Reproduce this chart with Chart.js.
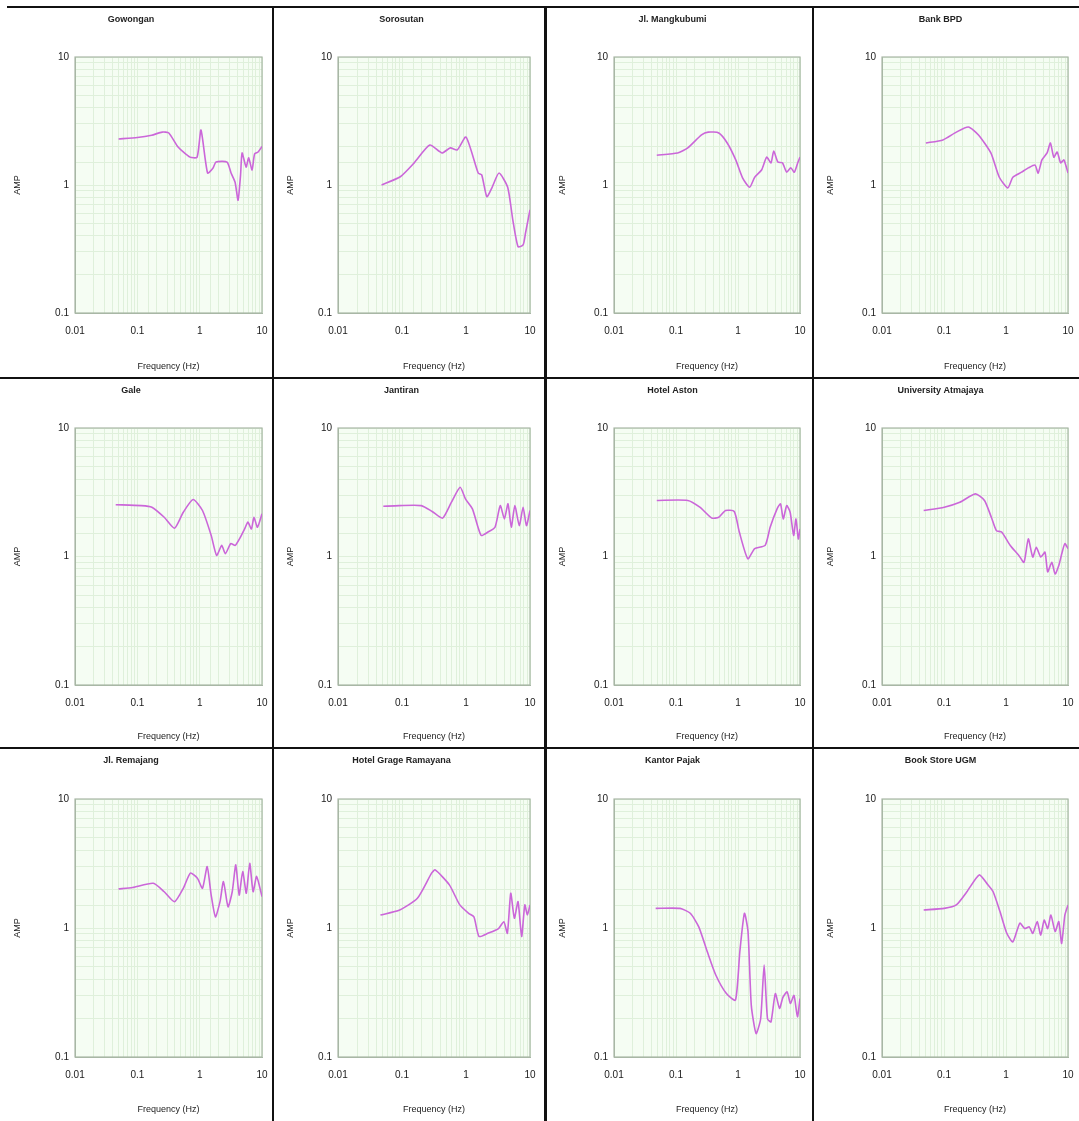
<!DOCTYPE html>
<html>
<head>
<meta charset="utf-8">
<title>HVSR - 12 titik</title>
<script src="https://cdn.jsdelivr.net/npm/chart.js@4.4.1/dist/chart.umd.min.js"></script>
<style>
    html, body { margin: 0; padding: 0; background: #fff; }
    #board { position: relative; width: 1079px; height: 1121px; overflow: hidden; background: #fff; }
    #board canvas { position: absolute; }
    .sep { position: absolute; background: #111; z-index: 5; }
</style>
</head>
<body>
<div id="board"></div>
<script>
(function() {
    'use strict';

    // ---- data ----
    const SITE_NAMES = [
        'Gowongan', 'Sorosutan', 'Jl. Mangkubumi', 'Bank BPD',
        'Gale', 'Jantiran', 'Hotel Aston', 'University Atmajaya',
        'Jl. Remajang', 'Hotel Grage Ramayana', 'Kantor Pajak', 'Book Store UGM',
    ];

    const gowonganFreq = [0.05, 0.1, 0.17, 0.25, 0.32, 0.45, 0.7, 0.91, 1.05, 1.34, 1.64, 1.83, 2.75, 3.19, 3.7, 4.13, 4.53, 4.79, 5.56, 6.11, 6.93, 7.6, 8.65, 10];
    const gowonganAmp  = [2.29, 2.35, 2.45, 2.59, 2.55, 1.98, 1.65, 1.65, 2.69, 1.24, 1.36, 1.51, 1.51, 1.24, 1.05, 0.76, 1.2, 1.78, 1.38, 1.63, 1.31, 1.75, 1.81, 2.0];

    const sorosutanFreq = [0.048, 0.094, 0.155, 0.272, 0.42, 0.57, 0.73, 1.0, 1.55, 1.76, 2.12, 2.56, 3.28, 4.48, 5.4, 6.5, 7.8, 8.5, 10];
    const sorosutanAmp  = [1.0, 1.16, 1.49, 2.05, 1.78, 1.95, 1.88, 2.37, 1.24, 1.2, 0.81, 0.96, 1.24, 0.96, 0.53, 0.33, 0.34, 0.42, 0.64];

    const mangkubumiFreq = [0.049, 0.106, 0.155, 0.258, 0.33, 0.49, 0.67, 0.92, 1.19, 1.54, 1.86, 2.4, 2.9, 3.4, 3.77, 4.4, 5.2, 6.1, 7.1, 8.1, 9.2, 10];
    const mangkubumiAmp  = [1.71, 1.78, 1.95, 2.46, 2.59, 2.55, 2.13, 1.57, 1.13, 0.96, 1.15, 1.31, 1.65, 1.49, 1.84, 1.51, 1.49, 1.26, 1.36, 1.26, 1.49, 1.65];

    const bankBpdFreq = [0.051, 0.096, 0.158, 0.247, 0.36, 0.57, 0.78, 1.07, 1.29, 1.78, 2.3, 2.94, 3.3, 3.8, 4.6, 5.2, 5.9, 6.7, 7.6, 8.6, 10];
    const bankBpdAmp  = [2.13, 2.25, 2.59, 2.84, 2.46, 1.78, 1.15, 0.95, 1.15, 1.26, 1.36, 1.43, 1.24, 1.57, 1.78, 2.13, 1.65, 1.81, 1.49, 1.57, 1.24];

    const galeFreq = [0.045, 0.116, 0.171, 0.27, 0.395, 0.546, 0.785, 1.11, 1.53, 1.87, 2.26, 2.58, 3.15, 3.72, 4.35, 5.27, 5.94, 6.76, 7.43, 8.45, 10];
    const galeAmp  = [2.53, 2.49, 2.42, 2.02, 1.66, 2.21, 2.78, 2.28, 1.46, 1.02, 1.22, 1.05, 1.26, 1.22, 1.37, 1.64, 1.85, 1.64, 2.02, 1.69, 2.15];

    const jantiranFreq = [0.051, 0.09, 0.2, 0.296, 0.43, 0.59, 0.81, 0.98, 1.26, 1.72, 2.21, 2.84, 3.43, 3.98, 4.53, 5.1, 5.8, 6.8, 7.8, 8.8, 10];
    const jantiranAmp  = [2.46, 2.49, 2.49, 2.24, 1.99, 2.64, 3.46, 2.81, 2.35, 1.46, 1.55, 1.69, 2.49, 1.96, 2.57, 1.69, 2.49, 1.74, 2.42, 1.74, 2.28];

    const astonFreq = [0.049, 0.155, 0.242, 0.378, 0.49, 0.63, 0.87, 1.05, 1.44, 1.86, 2.74, 3.3, 4.27, 4.85, 5.37, 6.1, 6.93, 7.9, 8.6, 9.4, 10];
    const astonAmp  = [2.73, 2.73, 2.42, 1.99, 2.02, 2.28, 2.24, 1.55, 0.96, 1.15, 1.22, 1.69, 2.35, 2.57, 1.96, 2.49, 2.21, 1.46, 1.96, 1.37, 1.64];

    const atmajayaFreq = [0.047, 0.101, 0.18, 0.32, 0.45, 0.58, 0.7, 0.85, 1.17, 1.61, 1.95, 2.29, 2.7, 3.08, 3.63, 4.25, 4.7, 5.48, 6.2, 7.1, 8.05, 8.9, 10];
    const atmajayaAmp  = [2.28, 2.42, 2.64, 3.07, 2.73, 2.02, 1.59, 1.55, 1.22, 1.02, 0.9, 1.37, 0.99, 1.18, 0.99, 1.08, 0.76, 0.9, 0.73, 0.85, 1.08, 1.26, 1.15];

    const remajangFreq = [0.05, 0.084, 0.18, 0.27, 0.395, 0.546, 0.71, 0.92, 1.11, 1.32, 1.53, 1.79, 2.12, 2.41, 2.85, 3.33, 3.8, 4.3, 4.9, 5.6, 6.35, 7.2, 8.2, 10];
    const remajangAmp  = [2.01, 2.06, 2.22, 1.91, 1.6, 2.03, 2.66, 2.43, 2.03, 2.99, 1.8, 1.22, 1.6, 2.29, 1.46, 1.91, 3.09, 1.8, 2.74, 1.86, 3.18, 1.91, 2.51, 1.75];

    const grageFreq = [0.046, 0.092, 0.174, 0.29, 0.33, 0.55, 0.8, 1.1, 1.33, 1.6, 2.2, 3.22, 3.9, 4.43, 5.0, 5.7, 6.5, 7.4, 8.3, 9.1, 10];
    const grageAmp  = [1.26, 1.38, 1.7, 2.66, 2.82, 2.16, 1.51, 1.3, 1.22, 0.86, 0.91, 0.99, 1.12, 0.91, 1.86, 1.19, 1.6, 0.86, 1.51, 1.26, 1.51];

    const pajakFreq = [0.047, 0.116, 0.17, 0.233, 0.32, 0.44, 0.65, 0.91, 1.07, 1.27, 1.45, 1.64, 1.96, 2.32, 2.64, 2.99, 3.4, 4.0, 4.68, 5.3, 6.2, 7.0, 8.0, 9.1, 10];
    const pajakAmp  = [1.42, 1.42, 1.3, 1.02, 0.654, 0.43, 0.31, 0.276, 0.654, 1.3, 0.94, 0.25, 0.152, 0.198, 0.516, 0.198, 0.187, 0.31, 0.238, 0.29, 0.32, 0.26, 0.3, 0.205, 0.284];

    const bookStoreFreq = [0.047, 0.101, 0.158, 0.234, 0.37, 0.51, 0.62, 0.8, 1.03, 1.29, 1.67, 2.0, 2.37, 2.7, 3.19, 3.63, 4.13, 4.7, 5.3, 6.2, 7.1, 7.9, 8.9, 10];
    const bookStoreAmp  = [1.38, 1.42, 1.51, 1.91, 2.58, 2.16, 1.91, 1.34, 0.91, 0.78, 1.09, 0.99, 1.02, 0.91, 1.12, 0.88, 1.15, 0.99, 1.26, 0.94, 1.12, 0.76, 1.26, 1.51];

    const X_DECADES = [0.01, 0.1, 1, 10];
    const X_TICK_LABELS = ['0.01', '0.1', '1', '10'];
    const Y_DECADES = [0.1, 1, 10];
    const Y_TICK_LABELS = ['0.1', '1', '10'];

    const SERIES = [
        [gowonganFreq, gowonganAmp], [sorosutanFreq, sorosutanAmp], [mangkubumiFreq, mangkubumiAmp], [bankBpdFreq, bankBpdAmp],
        [galeFreq, galeAmp], [jantiranFreq, jantiranAmp], [astonFreq, astonAmp], [atmajayaFreq, atmajayaAmp],
        [remajangFreq, remajangAmp], [grageFreq, grageAmp], [pajakFreq, pajakAmp], [bookStoreFreq, bookStoreAmp],
    ];

    // ---- layout of the 4x3 sheet ----
    const COL_EDGES = [0, 273, 545, 813, 1079];
    const ROW_EDGES = [7, 378, 748, 1121];
    const PLOT_LEFT = [75, 338, 614, 882];
    const PLOT_RIGHT = [262, 530, 800, 1068];
    const PLOT_TOP = [57, 428, 799];
    const PLOT_BOTTOM = [313, 685, 1057];

    const FONT = "'Liberation Sans', Arial, sans-serif";
    const LINE_COLOR = '#cb66d9';
    const PLOT_BG = '#f5fdf3';
    const GRID_COLOR = '#dff0db';
    const FRAME_COLOR = '#a9b7a6';

    Chart.defaults.font.family = FONT;
    Chart.defaults.color = '#1a1a1a';

    const plotFrame = {
        id: 'plotFrame',
        beforeDraw(chart) {
            const { ctx, chartArea: a } = chart;
            ctx.save();
            ctx.fillStyle = PLOT_BG;
            ctx.fillRect(a.left, a.top, a.width, a.height);
            ctx.restore();
        },
        beforeDatasetsDraw(chart) {
            const { ctx, chartArea: a } = chart;
            ctx.save();
            ctx.strokeStyle = FRAME_COLOR;
            ctx.lineWidth = 1.2;
            ctx.strokeRect(a.left, a.top, a.width, a.height);
            ctx.restore();
        },
    };

    function decadeLabel(decades, labels) {
        return value => {
            const idx = decades.findIndex(d => Math.abs(value / d - 1) < 1e-6);
            return idx < 0 ? '' : labels[idx];
        };
    }

    function buildPanel(index) {
        const c = index % 4;
        const r = Math.floor(index / 4);
        const cellX = COL_EDGES[c], cellW = COL_EDGES[c + 1] - COL_EDGES[c];
        const cellY = ROW_EDGES[r], cellH = ROW_EDGES[r + 1] - ROW_EDGES[r];
        const yAxisWidth = PLOT_LEFT[c] - cellX;
        const rightPad = cellX + cellW - PLOT_RIGHT[c];
        const topSpace = PLOT_TOP[r] - cellY;
        const bottomSpace = cellY + cellH - PLOT_BOTTOM[r];

        const canvas = document.createElement('canvas');
        canvas.width = cellW;
        canvas.height = cellH;
        canvas.style.left = cellX + 'px';
        canvas.style.top = cellY + 'px';
        document.getElementById('board').appendChild(canvas);

        const [freq, amp] = SERIES[index];
        const titleSize = 9;
        const titleTopPad = 7;

        new Chart(canvas, {
            type: 'line',
            data: {
                datasets: [{
                    label: SITE_NAMES[index],
                    data: freq.map((f, i) => ({ x: f, y: amp[i] })),
                    borderColor: LINE_COLOR,
                    borderWidth: 1.6,
                    pointRadius: 0,
                    tension: 0.2,
                    fill: false,
                }],
            },
            options: {
                responsive: false,
                animation: false,
                devicePixelRatio: 1,
                layout: { padding: { left: 0, right: rightPad, top: 0, bottom: 0 } },
                plugins: {
                    legend: { display: false },
                    tooltip: { enabled: false },
                    title: {
                        display: true,
                        text: SITE_NAMES[index],
                        color: '#222',
                        font: { size: titleSize, family: FONT, weight: 'bold' },
                        padding: { top: titleTopPad, bottom: topSpace - titleTopPad - titleSize * 1.2 },
                    },
                },
                scales: {
                    x: {
                        type: 'logarithmic',
                        min: 0.01,
                        max: 10,
                        afterFit: s => { s.height = bottomSpace; },
                        border: { display: true, color: FRAME_COLOR },
                        grid: { color: GRID_COLOR, drawTicks: true, tickLength: 10, tickColor: 'rgba(0,0,0,0)', lineWidth: 1 },
                        ticks: {
                            autoSkip: false,
                            maxRotation: 0,
                            padding: 2,
                            font: { size: 10 },
                            color: '#1a1a1a',
                            callback: decadeLabel(X_DECADES, X_TICK_LABELS),
                        },
                        title: {
                            display: true,
                            text: 'Frequency (Hz)',
                            font: { size: 9 },
                            color: '#222',
                            padding: { top: 0, bottom: 6 },
                        },
                    },
                    y: {
                        type: 'logarithmic',
                        min: 0.1,
                        max: 10,
                        afterFit: s => { s.width = yAxisWidth; },
                        border: { display: true, color: FRAME_COLOR },
                        grid: { color: GRID_COLOR, drawTicks: false, lineWidth: 1 },
                        ticks: {
                            autoSkip: false,
                            padding: 6,
                            font: { size: 10 },
                            color: '#1a1a1a',
                            callback: decadeLabel(Y_DECADES, Y_TICK_LABELS),
                        },
                        title: {
                            display: true,
                            text: 'AMP',
                            font: { size: 9 },
                            color: '#222',
                            padding: { top: 12, bottom: 0 },
                        },
                    },
                },
            },
            plugins: [plotFrame],
        });
    }

    function addSeparator(left, top, width, height) {
        const el = document.createElement('div');
        el.className = 'sep';
        el.style.left = left + 'px';
        el.style.top = top + 'px';
        el.style.width = width + 'px';
        el.style.height = height + 'px';
        document.getElementById('board').appendChild(el);
    }

    function init() {
        for (let i = 0; i < SITE_NAMES.length; i++) {
            buildPanel(i);
        }
        // panel frame lines
        addSeparator(7, 6, 1072, 2);
        addSeparator(0, 377, 1079, 2);
        addSeparator(0, 747, 1079, 2);
        addSeparator(272, 6, 2, 1115);
        addSeparator(544, 6, 3, 1115);
        addSeparator(812, 6, 2, 1115);
    }

    if (document.readyState === 'loading') {
        document.addEventListener('DOMContentLoaded', init);
    } else {
        init();
    }
})();
</script>
</body>
</html>
